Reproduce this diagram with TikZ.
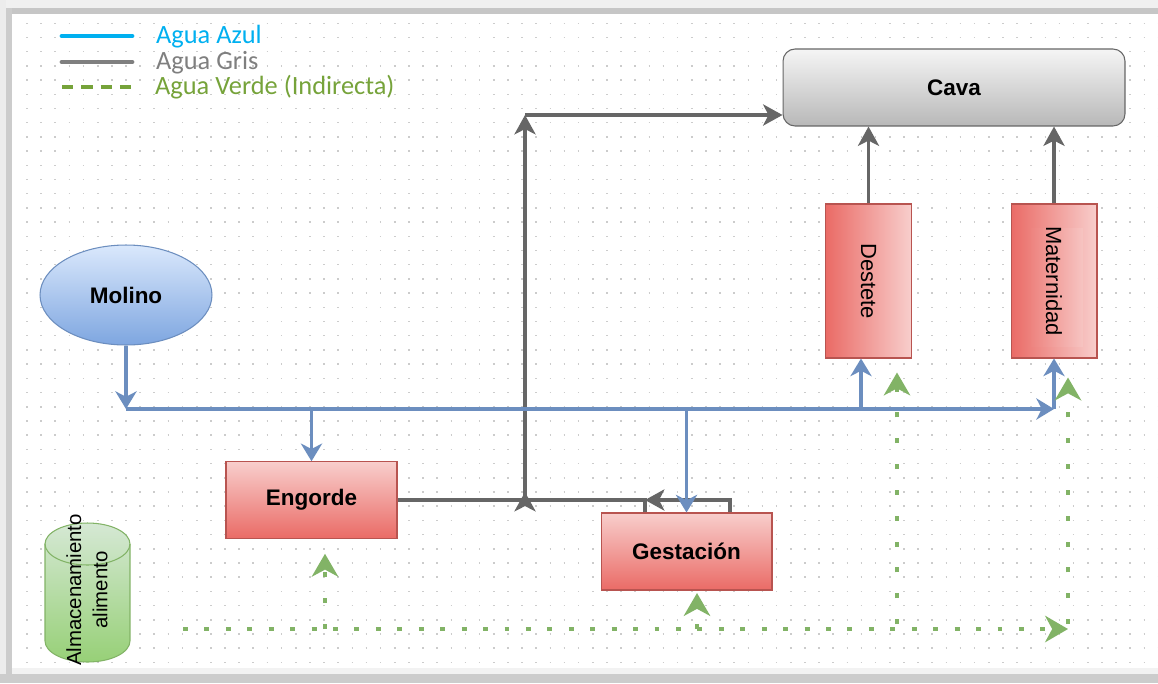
\documentclass[tikz,border=0pt]{standalone}
\usepackage{fontspec}
\setmainfont{Liberation Sans}
\newfontfamily\leyendafont{Carlito}
\usetikzlibrary{arrows.meta,shapes.geometric}
\definecolor{rojoclaro}{HTML}{F8CECC}
\definecolor{rojooscuro}{HTML}{EA6B66}
\definecolor{rojoborde}{HTML}{B85450}
\definecolor{azulclaro}{HTML}{DAE8FC}
\definecolor{azulmedio}{HTML}{7EA6E0}
\definecolor{azulborde}{HTML}{6C8EBF}
\definecolor{grisclaro}{HTML}{F5F5F5}
\definecolor{grismedio}{HTML}{B8B8B8}
\definecolor{grisborde}{HTML}{666666}
\definecolor{verdeclaro}{HTML}{D5E8D4}
\definecolor{verdemedio}{HTML}{97D077}
\definecolor{verdeborde}{HTML}{82B366}
\definecolor{leyazul}{HTML}{00B0F0}
\definecolor{leygris}{HTML}{7F7F7F}
\definecolor{leyverde}{HTML}{76A33A}
\begin{document}
\begin{tikzpicture}[x=0.02cm,y=-0.02cm,
	caja/.style={draw=rojoborde,line width=0.6pt,inner sep=0pt,top color=rojoclaro,bottom color=rojooscuro,
		minimum width=3.42cm,minimum height=1.53cm,font=\fontsize{12.8}{15}\selectfont\bfseries},
	cajavert/.style={draw=rojoborde,line width=0.6pt,inner sep=0pt,left color=rojooscuro,right color=rojoclaro,
		minimum width=1.71cm,minimum height=3.08cm,font=\fontsize{12.5}{15}\selectfont},
	azul/.style={draw=azulborde,line width=1.8pt,-{Stealth[length=10pt,width=12pt,inset=3pt]}},
	gris/.style={draw=grisborde,line width=2pt},
	flechagris/.style={gris,-{Stealth[length=11pt,width=12pt,inset=3pt]}},
	verde/.style={draw=verdeborde,line width=2.6pt,dash pattern=on 2.8pt off 9.4pt,
		-{Stealth[length=13pt,width=15pt,inset=4pt]}},
	verdevert/.style={verde,dash pattern=on 2.8pt off 11.9pt},
	leyenda/.style={anchor=base west,font=\leyendafont\fontsize{15}{18}\selectfont}]
%					Cadre et fond :
					\useasboundingbox (0,0) rectangle (1158,683);
					\fill[white] (0,0) rectangle (1158,683);
					\fill[gray!12] (0,0) rectangle (1158,8);
					\fill[gray!45] (10,8) rectangle (1158,14);
					\fill[gray!15] (0,0) rectangle (6,683);
					\fill[gray!40] (6,8) rectangle (12,676);
					\fill[gray!10] (12,668) rectangle (1158,674);
					\fill[gray!40] (0,674) rectangle (1158,683);
					\foreach \y in {23.3,37.5,...,668}
						\draw[gray!40,line width=0.9pt,dash pattern=on 0.9pt off 7.15pt] (26.2,\y) -- (1158,\y);
%					Légende :
					\draw[leyazul,line width=2.8pt,line cap=round] (62,36) -- (132,36);
					\draw[leygris,line width=2.8pt,line cap=round] (62,62) -- (132,62);
					\draw[leyverde,line width=2.8pt,dash pattern=on 6.5pt off 4.5pt] (62,87) -- (132,87);
					\node[leyenda,text=leyazul] (tazul) at (150,43) {Agua Azul};
					\node[leyenda,text=leygris] (tgris) at (150,69) {Agua Gris};
					\node[leyenda,text=leyverde] (tverde) at (149,94) {Agua Verde (Indirecta)};
%					Nœuds :
					\node[draw=grisborde,line width=0.6pt,rounded corners=0.24cm,top color=grisclaro,bottom color=grismedio,
						minimum width=6.84cm,minimum height=1.54cm,font=\fontsize{12.8}{15}\selectfont\bfseries] (cava) at (954,87.5) {Cava};
					\node[ellipse,draw=azulborde,line width=0.6pt,inner sep=0pt,top color=azulclaro,bottom color=azulmedio,
						minimum width=3.44cm,minimum height=2cm,font=\fontsize{12.8}{15}\selectfont\bfseries] (mol) at (126,295) {Molino};
					\node[caja] (eng) at (311.5,500) {Engorde};
					\node[caja,minimum height=1.54cm] (gest) at (686.5,551.5) {Gestación};
					\node[cajavert] (des) at (868.5,281) {\rotatebox{-90}{Destete}};
					\node[cajavert,minimum width=1.72cm,
						path picture={\shade[left color=rojooscuro,right color=rojoclaro!85!white]
							([shift={(20,24)}]path picture bounding box.north west) rectangle
							([shift={(-14,-11)}]path picture bounding box.south east);}] (mat) at (1054,281) {\rotatebox{-90}{Maternidad}};
%					Cylindre :
					\draw[verdeborde,line width=0.6pt,top color=verdeclaro,bottom color=verdemedio]
						(45,544) -- (45,641) arc[start angle=180,end angle=360,x radius=0.85cm,y radius=0.42cm]
						-- (130,544) arc[start angle=0,end angle=180,x radius=0.85cm,y radius=0.42cm] -- cycle;
					\draw[verdeborde,line width=0.6pt] (45,544) arc[start angle=180,end angle=360,x radius=0.85cm,y radius=0.42cm];
					\node[rotate=90,align=center,font=\fontsize{11.6}{15}\selectfont] (alm) at (87,590) {Almacenamiento\\alimento};
%					Agua gris :
					\coordinate (g1) at (525,500);
					\coordinate (g2) at (525,115);
					\coordinate (g3) at (645,500);
					\coordinate (g4) at (730,500);
					\draw[flechagris] (eng.east) -| (g2);
					\draw[flechagris] (g2) -- (cava.west |- g2);
					\draw[gris] (g3 |- gest.north) -- (g3) -- (g1);
					\draw[flechagris] (g1) -- ++(0,-8);
					\draw[flechagris] (g4 |- gest.north) -- (g4) -- (g3);
					\draw[flechagris] (des.north) -- (cava.south -| des.north);
					\draw[flechagris] (mat.north) -- (cava.south -| mat.north);
%					Agua azul :
					\coordinate (b0) at (126,409);
					\coordinate (b1) at (1054,409);
					\coordinate (bdes) at ([xshift=-0.15cm]des.south);
					\draw[azul] (mol.south) -- (b0);
					\draw[azul] (b0) -- (b1);
					\draw[azul] (b1) -- (mat.south);
					\draw[azul] (eng.north |- b0) -- (eng.north);
					\draw[azul] (gest.north |- b0) -- (gest.north);
					\draw[azul] (bdes |- b0) -- (bdes);
%					Agua verde :
					\coordinate (v0) at (183,629);
					\coordinate (peng) at ([xshift=0.27cm,yshift=-0.3cm]eng.south);
					\coordinate (pges) at ([xshift=0.21cm,yshift=-0.05cm]gest.south);
					\coordinate (pdes) at ([xshift=0.57cm,yshift=-0.28cm]des.south);
					\coordinate (pmat) at ([xshift=0.28cm,yshift=-0.38cm]mat.south);
					\draw[verde] (v0) -- (pmat |- v0);
					\draw[verdevert] (peng |- v0) -- (peng);
					\draw[verdevert] (pges |- v0) -- (pges);
					\draw[verdevert] ([yshift=0.1cm]pdes |- v0) -- (pdes);
					\draw[verdevert] ([yshift=0.1cm]pmat |- v0) -- (pmat);
\end{tikzpicture}
\end{document}
